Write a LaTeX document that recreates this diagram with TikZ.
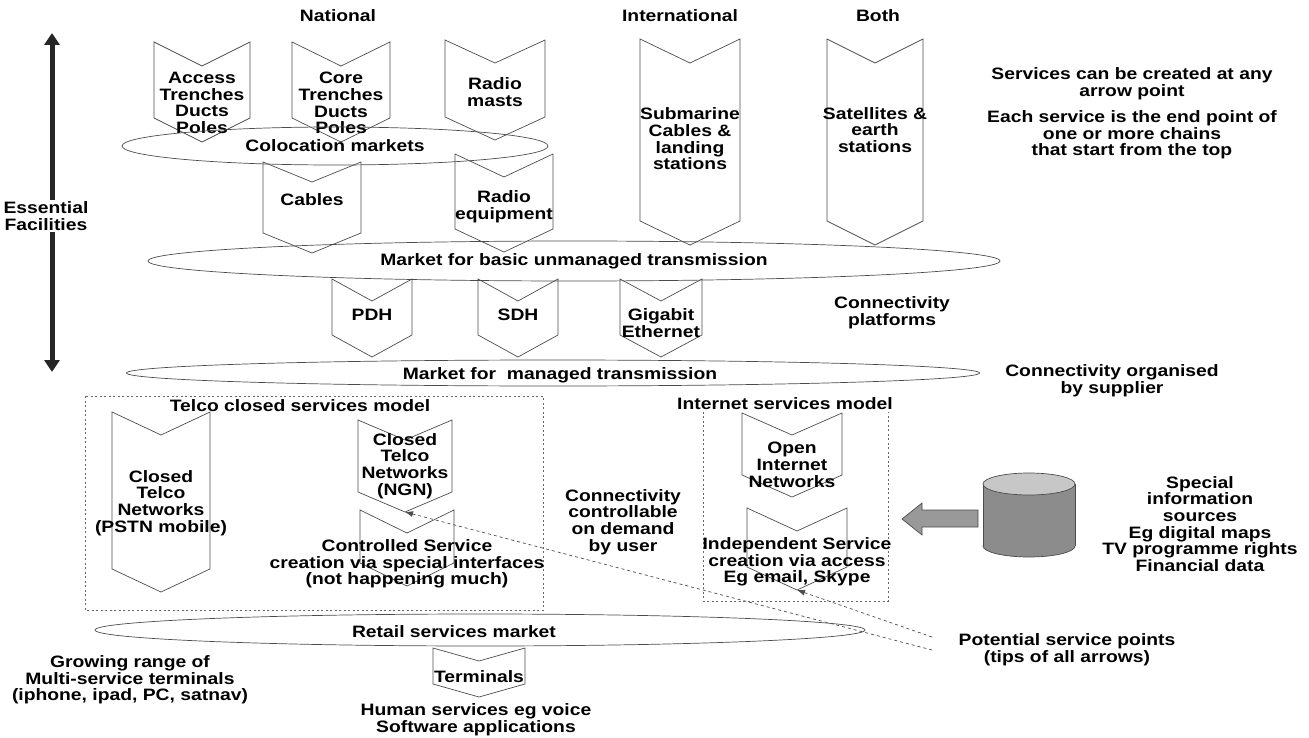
\documentclass[tikz,border=0pt]{standalone}
\usepackage{fontspec}
\setmainfont{Liberation Sans}[FakeStretch=1.17]
\usetikzlibrary{shapes.geometric,arrows.meta}

% name, centre x, top y, tip y, half width, notch depth, text y, text
\newcommand{\chev}[8]{%
  \draw[chevline] (#2-#5,#3) -- (#2,#3+#6) -- (#2+#5,#3) -- (#2+#5,#4-#6) -- (#2,#4) -- (#2-#5,#4-#6) -- cycle;
  \coordinate (#1 tip) at (#2,#4);
  \node[lbl] (#1) at (#2,#7) {#8};
}

\begin{document}
\begin{tikzpicture}[x=1pt, y=-1pt]
        \tikzstyle{lbl}=[font=\fontsize{16.5}{16.7}\selectfont\bfseries, align=center, inner sep=1pt]
        \tikzstyle{chevline}=[draw=black!70, line width=0.7pt]
        \tikzstyle{market}=[lbl, draw=black!70, line width=0.7pt, ellipse, inner sep=0pt]
        \tikzstyle{modelbox}=[draw=black!60, line width=0.7pt, dash pattern=on 2pt off 2.5pt]
        \tikzstyle{boxtitle}=[lbl, fill=white, inner sep=2pt]
        \tikzstyle{efarrow}=[line width=5pt, black!85, -{Triangle[width=15pt,length=12pt]}]
        \tikzstyle{ptr}=[black!70, line width=0.7pt, dash pattern=on 3pt off 3pt, -{Latex[length=8pt,width=6pt]}]
        \useasboundingbox (0,0) rectangle (1309,738);

        \node[lbl] (national) at (338,16) {National};
        \node[lbl] (intl) at (680,16) {International};
        \node[lbl] (both) at (878,16) {Both};

        \node[lbl] (ess) at (46,216) {Essential\\Facilities};
        \coordinate (ef top) at (52,33);
        \coordinate (ef bot) at (52,372);
        \draw[efarrow] (ess.north -| ef top) -- (ef top);
        \draw[efarrow] (ess.south -| ef bot) -- (ef bot);

        \chev{access}{202}{42}{142}{48}{24}{103}{Access\\Trenches\\Ducts\\Poles}
        \chev{core}{341}{42}{142}{49}{24}{103}{Core\\Trenches\\Ducts\\Poles}
        \chev{masts}{495}{40}{140}{50}{23}{92}{Radio\\masts}
        \chev{subm}{690}{39}{245}{50}{24}{139}{Submarine\\Cables \&\\landing\\stations}
        \chev{sat}{875}{39}{245}{48}{24}{130}{Satellites \&\\earth\\stations}
        \chev{cables}{312}{162}{253}{49}{20}{200}{Cables}
        \chev{radioeq}{504}{154}{252}{49}{23}{207}{Radio\\equipment}

        \node[market, minimum width=426, minimum height=38] (coloc) at (335,146) {Colocation markets};
        \node[market, minimum width=852, minimum height=40] (unmanaged) at (574,261) {Market for basic unmanaged transmission};

        \chev{pdh}{372}{279}{357}{40}{22}{315}{PDH}
        \chev{sdh}{518}{279}{357}{40}{22}{315}{SDH}
        \chev{gige}{661}{279}{357}{41}{22}{323}{Gigabit\\Ethernet}

        \node[market, minimum width=853, minimum height=26] (managed) at (553,373) {};
        \node[lbl] (managed txt) at (560,375) {Market for \ managed transmission};

        \node[lbl] (platforms) at (892,313) {Connectivity\\platforms};
        \node[lbl] (supplier) at (1112,381) {Connectivity organised\\by supplier};
        \node[lbl] (anypoint) at (1132,84) {Services can be created at any\\arrow point};
        \node[lbl] (chains) at (1132,135) {Each service is the end point of\\one or more chains\\that start from the top};

        \draw[modelbox] (85,396) rectangle (543,610);
        \node[boxtitle] (telco) at (300,406) {Telco closed services model};
        \draw[modelbox] (703,398) rectangle (888,601);
        \node[boxtitle] (inet) at (785,404) {Internet services model};

        \chev{pstn}{161}{412}{592}{49}{23}{503}{Closed\\Telco\\Networks\\(PSTN mobile)}
        \chev{ngn}{405}{420}{512}{47}{20}{466}{Closed\\Telco\\Networks\\(NGN)}
        \chev{ctrl}{407}{510}{586}{47}{23}{564}{Controlled Service\\creation via special interfaces\\(not happening much)}
        \chev{open}{792}{413}{497}{50}{22}{465}{Open\\Internet\\Networks}
        \chev{ind}{797}{508}{590}{50}{23}{562}{Independent Service\\creation via access\\Eg email, Skype}

        \node[lbl] (ondemand) at (623,522) {Connectivity\\controllable\\on demand\\by user};

        \draw[draw=black!70, line width=0.7pt, fill=black!40] (978,510) -- (922,510) -- (922,503) -- (902,519) -- (922,535) -- (922,527) -- (978,527) -- cycle;
        \filldraw[draw=black!70, line width=0.7pt, fill=black!45] (1029,546) ellipse [x radius=46pt, y radius=11pt];
        \fill[black!45] (983,484) rectangle (1075,546);
        \draw[black!70, line width=0.7pt] (983,484) -- (983,546) (1075,484) -- (1075,546);
        \filldraw[draw=black!70, line width=0.7pt, fill=black!22] (1029,484) ellipse [x radius=46pt, y radius=11pt];
        \node[lbl] (sources) at (1200,524) {Special\\information\\sources\\Eg digital maps\\TV programme rights\\Financial data};

        \node[market, minimum width=770, minimum height=32] (retail) at (480,630) {};
        \node[lbl] (retail txt) at (454,632) {Retail services market};

        \node[lbl] (potential) at (1067,650) {Potential service points\\(tips of all arrows)};
        \coordinate (pot a) at (932,650);
        \coordinate (pot b) at (932,637);
        \draw[ptr] (pot a) -- (ngn tip);
        \draw[ptr] (pot b) -- (ind tip);

        \chev{term}{479}{648}{697}{46}{13}{677}{Terminals}
        \node[lbl] (growing) at (130,680) {Growing range of\\Multi-service terminals\\(iphone, ipad, PC, satnav)};
        \node[lbl] (human) at (476,720) {Human services eg voice\\Software applications};
    \end{tikzpicture}
\end{document}
